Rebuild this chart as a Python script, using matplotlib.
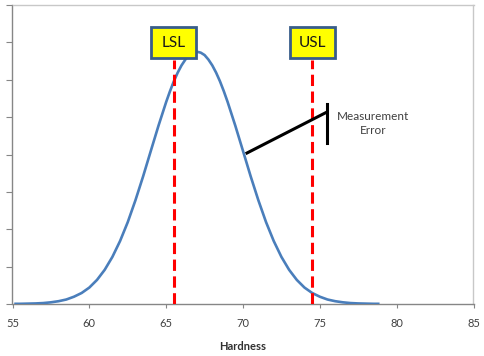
import matplotlib
matplotlib.use('Agg')
import matplotlib.pyplot as plt
from matplotlib.patches import Rectangle

plt.rcParams['font.family'] = ['Lato', 'DejaVu Sans']

# hardness curve
hardness = [55.2, 55.5, 56, 56.5, 57, 57.5, 58, 58.5, 59, 59.5, 60, 60.5, 61, 61.5,
            62, 62.5, 63, 63.5, 64, 64.5, 65, 65.25, 65.5, 65.75, 66, 66.25, 66.5, 66.75,
            67, 67.25, 67.5, 67.75, 68, 68.25, 68.5, 68.75,
            69, 69.5, 70, 70.5, 71, 71.5, 72, 72.5, 73, 73.5, 74, 74.5, 75, 75.5,
            76, 76.5, 77, 77.5, 78, 78.5, 78.8]
density = [0.0001, 0.0001, 0.0002, 0.0003, 0.0005, 0.0009, 0.0015, 0.0024, 0.0039, 0.0059,
           0.0088, 0.0129, 0.0183, 0.0252, 0.0337, 0.0438, 0.0555, 0.0683, 0.0819, 0.0954,
           0.1081, 0.1139, 0.1192, 0.1238, 0.1277, 0.1308, 0.1332, 0.1345, 0.1350, 0.1345,
           0.1332, 0.1308, 0.1277, 0.1238, 0.1192, 0.1139, 0.1081, 0.0954,
           0.0819, 0.0683, 0.0555, 0.0438, 0.0337, 0.0252, 0.0183, 0.0129, 0.0088, 0.0059,
           0.0039, 0.0024, 0.0015, 0.0009, 0.0005, 0.0003, 0.0002, 0.0001, 0.0001]

spec_names = ['LSL', 'USL']
spec_values = [65.5, 74.5]
x_ticks = [55, 60, 65, 70, 75, 80, 85]
y_ticks = [0, 0.02, 0.04, 0.06, 0.08, 0.10, 0.12, 0.14, 0.16]

fig = plt.figure(figsize=(4.85, 3.56), dpi=100)
ax = fig.add_axes([12.5/485, 52/356, 461/485, 299/356])

ax.plot(hardness, density, color='#4A7EBB', lw=1.9, zorder=3, solid_joinstyle='round')

for name, val in zip(spec_names, spec_values):
    ax.plot([val, val], [0, 0.1306], color='#FF0000', lw=2.2, dashes=(3.7, 1.8), zorder=4)
    ax.add_patch(Rectangle((val - 1.46, 0.1316), 2.92, 0.0166, facecolor='#FFFF00',
                           edgecolor='#385D8A', lw=2, zorder=6, clip_on=False))
    ax.text(val, 0.1399, name, ha='center', va='center', fontsize=11, color='#1a1a1a', zorder=7)

# measurement error callout
ax.plot([70.26, 75.46], [0.0808, 0.1027], color='black', lw=2.2, zorder=5)
ax.plot([75.46, 75.46], [0.0862, 0.1070], color='black', lw=2.2, zorder=5)
ax.text(78.45, 0.0966, 'Measurement\nError', ha='center', va='center', fontsize=8.5,
        color='#404040', linespacing=1.25)

ax.set_xlim(55, 85)
ax.set_ylim(0, 0.16)
ax.set_xticks(x_ticks)
ax.set_yticks(y_ticks)
ax.set_yticklabels([])
ax.tick_params(axis='x', direction='out', length=3, width=0.8, colors='#868686',
               labelcolor='#404040', labelsize=8, pad=7)
ax.tick_params(axis='y', direction='out', length=4, width=0.8, colors='#868686')
ax.set_xlabel('Hardness', fontsize=8, fontweight='bold', color='#303030', labelpad=9)

for s in ['left', 'bottom']:
    ax.spines[s].set_color('#868686')
    ax.spines[s].set_linewidth(1)
for s in ['top', 'right']:
    ax.spines[s].set_color('#C8C8C8')
    ax.spines[s].set_linewidth(1)

fig.savefig('out.png', dpi=100)
